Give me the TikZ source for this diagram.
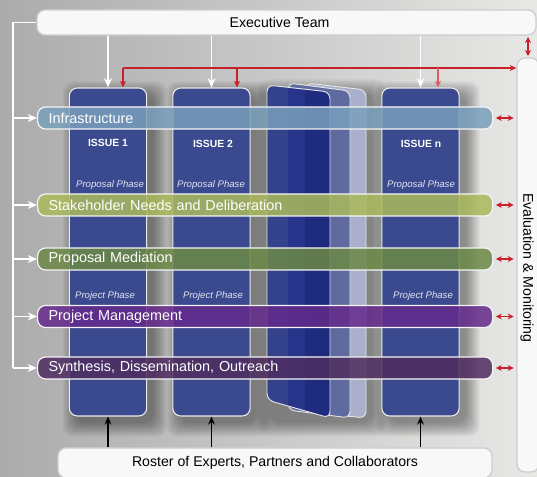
\documentclass[tikz,border=0pt]{standalone}
\usepackage{fontspec}
\setmainfont{Liberation Sans}
\usetikzlibrary{arrows.meta}
\definecolor{bgL}{HTML}{ABABAB}
\definecolor{bgM}{HTML}{C8C8C8}
\definecolor{bgR}{HTML}{E8E8E6}
\definecolor{colblue}{HTML}{3B4A8E}
\definecolor{cardA}{HTML}{34428C}
\definecolor{cardAB}{HTML}{263589}
\definecolor{cardABC}{HTML}{1E2B7E}
\definecolor{cardB}{HTML}{5E6AA0}
\definecolor{cardC}{HTML}{AAB0CC}
\definecolor{infraC}{HTML}{7AA0BC}
\definecolor{stakeC}{HTML}{ABBA5C}
\definecolor{propC}{HTML}{6C8946}
\definecolor{projC}{HTML}{652A8C}
\definecolor{synthC}{HTML}{4E2D60}
\definecolor{redC}{HTML}{C8202A}
\definecolor{redL}{HTML}{E05A62}
\definecolor{boxC}{HTML}{F8F8F8}
\definecolor{edgeC}{HTML}{CDCDCD}
\definecolor{phaseC}{HTML}{E2E4F0}
\newcommand\softshade[4]{%
  \foreach \i in {0,1.5,...,13.5}
    \fill[black, opacity=0.045, rounded corners=8pt]
      (#1+7-\i,#2+7-\i) rectangle (#3+7+\i,#4+7+\i);}
\begin{document}
\begin{tikzpicture}[x=0.75pt,y=-0.75pt,
  colbox/.style={draw=white!85!gray, line width=0.8pt, fill=colblue, rounded corners=6pt,
    minimum width=58pt, minimum height=246pt, inner sep=0pt},
  wbox/.style={draw=edgeC, line width=1pt, fill=boxC, rounded corners=6pt, inner sep=0pt,
    font=\fontsize{10.6}{12}\selectfont},
  band/.style={anchor=west, draw=white!92!gray, line width=0.9pt, rounded corners=6pt,
    fill opacity=0.85, text opacity=1, text=white, minimum height=16.5pt,
    inner xsep=8.25pt, inner ysep=0pt, text width=324.75pt, align=left,
    font=\fontsize{10.8}{12}\selectfont},
  issue/.style={text=white, font=\bfseries\fontsize{7.8}{9}\selectfont, inner sep=0pt},
  phase/.style={text=phaseC, font=\itshape\fontsize{7.2}{8}\selectfont, inner sep=0pt},
  wline/.style={draw=white, line width=0.9pt},
  warrow/.style={draw=white, line width=0.9pt, -{Stealth[length=7pt,width=6pt]}},
  rarrow/.style={draw=redC, line width=0.8pt, -{Stealth[length=5pt,width=4.5pt]}},
  rdarrow/.style={draw=redC, line width=0.8pt, {Stealth[length=4.5pt,width=4.5pt]}-{Stealth[length=4.5pt,width=4.5pt]}},
  karrow/.style={draw=black, line width=1.1pt, -{Stealth[length=6pt,width=5pt]}},
  cardedge/.style={draw=white!80!gray, line width=0.7pt, rounded corners=5pt}
]
\useasboundingbox (0,0) rectangle (537,477);
\shade[left color=bgL, right color=bgR, middle color=bgM] (0,0) rectangle (537,477);

% soft shadows
\softshade{69}{88}{147}{416}
\softshade{173}{88}{250}{416}
\softshade{382}{88}{459}{416}
\softshade{264}{86}{366}{416}

% columns
\node[colbox] (c1) at (108,252) {};
\node[colbox] (c2) at (211.5,252) {};
\node[colbox] (cn) at (420.5,252) {};

% stacked cards
\fill[cardC, rounded corners=5pt] (306,83) -- (366,90) -- (366,418) -- (306,412) -- cycle;
\draw[cardedge] (306,83) -- (366,90) -- (366,418) -- (306,412) -- cycle;
\fill[cardB, rounded corners=5pt] (288,83) -- (350,91) -- (350,418) -- (288,410) -- cycle;
\draw[cardedge] (288,83) -- (350,91) -- (350,418) -- (288,410) -- cycle;
\begin{scope}
  \clip[rounded corners=5pt] (267,85) -- (330,92) -- (330,418) -- (267,400) -- cycle;
  \fill[cardA] (260,80) rectangle (340,425);
  \fill[cardAB] (288,80) rectangle (305,425);
  \fill[cardABC] (305,80) rectangle (340,425);
\end{scope}
\draw[cardedge] (267,85) -- (330,92) -- (330,418) -- (267,400) -- cycle;

% column labels
\node[issue] (i1) at (108,143) {ISSUE 1};
\node[issue] (i2) at (213,144) {ISSUE 2};
\node[issue] (in) at (421,144) {ISSUE n};
\node[phase] (pp1) at (110,185) {Proposal Phase};
\node[phase] (pp2) at (211,185) {Proposal Phase};
\node[phase] (ppn) at (421,185) {Proposal Phase};
\node[phase] (pj1) at (105,296) {Project Phase};
\node[phase] (pj2) at (213,296) {Project Phase};
\node[phase] (pjn) at (423,296) {Project Phase};

% bands
\node[band, fill=infraC] (infra) at (37,118) {Infrastructure};
\node[band, fill=stakeC] (stake) at (37,205) {Stakeholder Needs and Deliberation};
\node[band, fill=propC] (prop) at (37,259) {Proposal Mediation};
\node[band, fill=projC] (proj) at (37,316.5) {Project Management};
\node[band, fill=synthC] (synth) at (37,368) {Synthesis, Dissemination, Outreach};

% boxes
\node[wbox, minimum width=374.25pt, minimum height=18.75pt] (exec) at (286.5,22.5) {\hspace*{-10.5pt}Executive Team};
\node[wbox, minimum width=325.5pt, minimum height=22.5pt] (roster) at (275,463) {Roster of Experts, Partners and Collaborators};
\node[wbox, minimum width=16.5pt, minimum height=310.5pt] (eval) at (528,265) {};
\node[rotate=-90, font=\fontsize{10.6}{12}\selectfont, inner sep=0pt] (evaltxt) at (527,268) {Evaluation \& Monitoring};

% white connectors
\coordinate (spine) at (13,368);
\draw[wline] (exec.west) -| (spine);
\foreach \b in {infra,stake,prop,proj,synth} \draw[warrow] (spine |- \b.west) -- (\b.west);
\foreach \c in {c1,c2,cn} \draw[warrow] (\c.north |- exec.south) -- (\c.north);

% red connectors
\coordinate (r1) at (123,68);
\coordinate (r2) at (237,68);
\coordinate (rn) at (438,68);
\draw[rarrow] (r1) -- (r1 -| eval.west);
\draw[rarrow] (r1) -- (r1 |- c1.north);
\draw[rarrow] (r2) -- (r2 |- c2.north);
\draw[rarrow, draw=redL] (rn) -- (rn |- cn.north);
\draw[rdarrow, shorten <=1pt, shorten >=1pt] (eval.north |- exec.south) -- (eval.north);
\foreach \b in {infra,stake,prop,proj,synth}
  \draw[rdarrow, shorten <=2pt, shorten >=2pt] (\b.east) -- (\b.east -| eval.west);

% black connectors
\foreach \c in {c1,c2,cn} \draw[karrow] (roster.north -| \c.south) -- (\c.south);
\end{tikzpicture}
\end{document}
